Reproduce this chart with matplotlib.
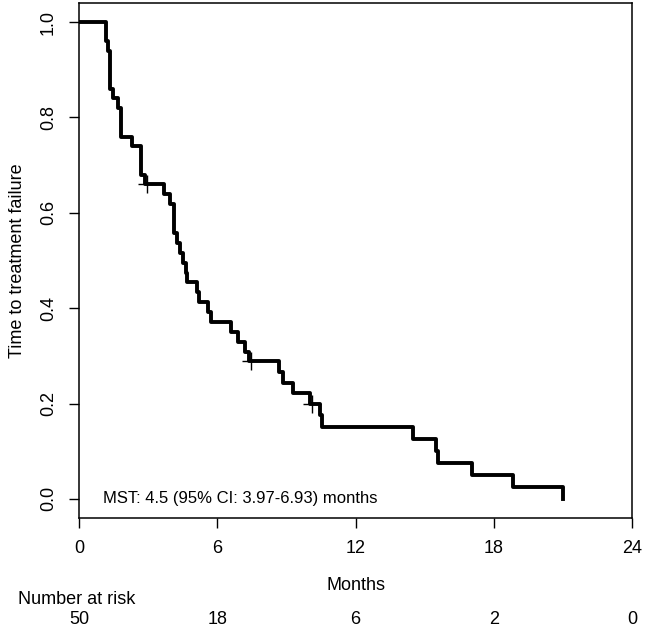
import matplotlib
matplotlib.use("Agg")
import matplotlib.pyplot as plt
import matplotlib.transforms as mtransforms

plt.rcParams['font.family'] = ['Liberation Sans', 'DejaVu Sans']

# step times (months) and survival level after each step
times = [0, 1.17, 1.27, 1.35, 1.49, 1.68, 1.82, 2.28, 2.69, 2.86,
         3.70, 3.95, 4.12, 4.27, 4.38, 4.52, 4.64, 4.70, 5.11, 5.19,
         5.58, 5.73, 6.58, 6.89, 7.20, 7.39, 8.68, 8.87, 9.27, 10.03,
         10.46, 10.53, 14.5, 15.5, 15.6, 17.07, 18.85, 21.0]
surv = [1.0, 0.96, 0.94, 0.86, 0.84, 0.82, 0.76, 0.74, 0.68, 0.66,
        0.639, 0.619, 0.557, 0.536, 0.516, 0.495, 0.474, 0.454, 0.433, 0.412,
        0.392, 0.371, 0.350, 0.330, 0.309, 0.289, 0.266, 0.244, 0.222, 0.200,
        0.175, 0.150, 0.125, 0.100, 0.075, 0.050, 0.025, 0.0]

# censored observations
cens_t = [2.97, 7.45, 10.1]
cens_s = [0.66, 0.289, 0.200]

xticks = [0, 6, 12, 18, 24]
at_risk = [50, 18, 6, 2, 0]
yticks = [0.0, 0.2, 0.4, 0.6, 0.8, 1.0]

fig = plt.figure(figsize=(6.46, 6.30), dpi=100)
ax = fig.add_axes([79/646, 1 - 518/630, (632-79)/646, (518-3)/630])

ax.step(times, surv, where='post', color='black', lw=2.8)
ax.plot(cens_t, cens_s, '+', color='black', ms=13, mew=1.0)

ax.set_xlim(0, 24)
ax.set_ylim(-0.04, 1.04)
ax.set_xticks(xticks)
ax.set_yticks(yticks)
ax.set_yticklabels(['%.1f' % v for v in yticks])
for lab in ax.get_yticklabels():
    lab.set_rotation(90)
    lab.set_va('center')

ax.tick_params(axis='both', direction='out', length=7, width=1, labelsize=13, color='black')
ax.tick_params(axis='x', pad=9)
ax.tick_params(axis='y', pad=9)
for sp in ax.spines.values():
    sp.set_linewidth(1.1)
    sp.set_color('black')

ax.set_ylabel('Time to treatment failure', fontsize=13, labelpad=10)
ax.set_xlabel('Months', fontsize=13, labelpad=14)

ax.text(1.04, 0.0, 'MST: 4.5 (95% CI: 3.97-6.93) months', fontsize=12, va='center', ha='left')

# number at risk table
trans = mtransforms.blended_transform_factory(ax.transData, fig.transFigure)
fig.text(18/646, 1 - 599/630, 'Number at risk', fontsize=13, ha='left', va='center')
for x, n in zip(xticks, at_risk):
    ax.text(x, 1 - 620/630, str(n), transform=trans, fontsize=13, ha='center', va='center', clip_on=False)

fig.savefig('out.png', dpi=100)
